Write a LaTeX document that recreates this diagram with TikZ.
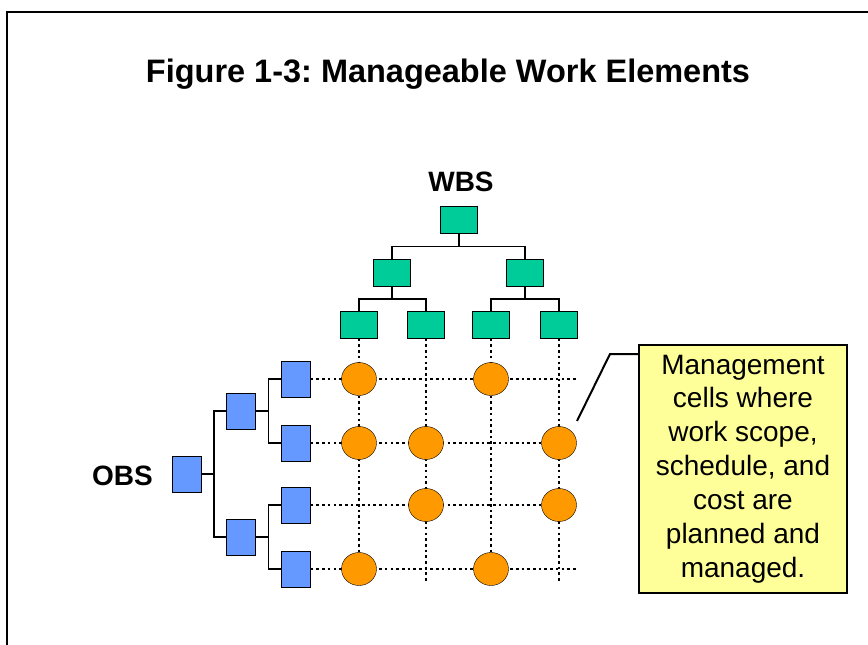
\documentclass[tikz,border=0pt]{standalone}
\usepackage{fontspec}
\setmainfont{Liberation Sans}
\usetikzlibrary{positioning,calc,shapes.geometric}
\definecolor{wbsgreen}{HTML}{00CC99}
\definecolor{obsblue}{HTML}{6699FF}
\definecolor{cellorange}{HTML}{FF9900}
\definecolor{noteyellow}{HTML}{FFFF99}
\frenchspacing
\def\wfork#1#2#3{
\coordinate (m) at ($(#1.south)!.5!(#2.north)$);
\draw [tree] (#2.north) |- (m) -| (#3.north)
             (#1.south) -- (#1.south |- m);
}
\def\ofork#1#2#3{
\coordinate (m) at ($(#1.east)!.5!(#2.west)$);
\draw [tree] (#2.west) -| (m) |- (#3.west)
             (#1.east) -- (m |- #1.east);
}
\tikzset{
  big/.style={font=\fontsize{28.1}{34}\selectfont},
  bigbold/.style={font=\fontsize{28.1}{34}\selectfont\bfseries},
  titlefont/.style={font=\fontsize{32.6}{38}\selectfont\bfseries},
  wbs/.style={draw,fill=wbsgreen,minimum width=37bp,minimum height=27bp,inner sep=0pt},
  obs/.style={draw,fill=obsblue,minimum width=29bp,minimum height=36bp,inner sep=0pt},
  cell/.style={draw,fill=cellorange,ellipse,minimum width=35bp,minimum height=33bp,inner sep=0pt},
  tree/.style={line width=1.2bp},
  grid/.style={line width=2.8bp,dash pattern=on 2.6bp off 3.1bp},
  note/.style={draw,line width=1.5bp,fill=noteyellow,minimum width=208bp,minimum height=248bp,
               align=center,big,inner sep=0pt}
}
\begin{document}
\begin{tikzpicture}[x=1bp,y=-1bp]
    \useasboundingbox (0,0) rectangle (868,645);
    \draw [line width=2.5bp] (7,650) -- (7,12) -- (875,12);
    \node [titlefont,anchor=base] (title) at (448,83) {Figure 1-3: Manageable Work Elements};
    % WBS tree
    \node [wbs] (w0) at (459,220) {};
    \node [wbs] (w1) at (392,273) {};
    \node [wbs] (w2) at (525,273) {};
    \node [wbs] (c1) at (359,325) {};
    \node [wbs] (c2) at (426,325) {};
    \node [wbs] (c3) at (491,325) {};
    \node [wbs] (c4) at (559,325) {};
    \node [bigbold,anchor=base] (wbslabel) at (461,192) {WBS};
    \wfork{w0}{w1}{w2}
    \wfork{w1}{c1}{c2}
    \wfork{w2}{c3}{c4}
    % OBS tree
    \node [obs] (o0) at (187,474) {};
    \node [obs] (o1) at (241,411) {};
    \node [obs] (o2) at (241,537) {};
    \node [obs] (r1) at (296,379) {};
    \node [obs] (r2) at (296,443) {};
    \node [obs] (r3) at (296,505) {};
    \node [obs] (r4) at (296,569) {};
    \node [bigbold,anchor=base east,inner sep=0pt] (obslabel) at (153,485) {OBS};
    \ofork{o0}{o1}{o2}
    \ofork{o1}{r1}{r2}
    \ofork{o2}{r3}{r4}
    % grid and cells
    \coordinate (gridend) at (576,581);
    \foreach \i in {1,...,4}{
      \draw [grid] (c\i.south) -- (c\i |- gridend);
      \draw [grid] (r\i.east) -- (r\i -| gridend);
    }
    \foreach \r/\c in {1/1,1/3,2/1,2/2,2/4,3/2,3/4,4/1,4/3}
      \node [cell] (cell\r\c) at (c\c |- r\r) {};
    % callout
    \node [note] (note) at (743,469)
          {Management\\cells where\\work scope,\\schedule, and\\cost are\\planned and\\managed.};
    \coordinate (tip) at (577,421);
    \draw [line width=2bp] (note.west |- 0,354) -- (610,354) -- (tip);
\end{tikzpicture}
\end{document}
